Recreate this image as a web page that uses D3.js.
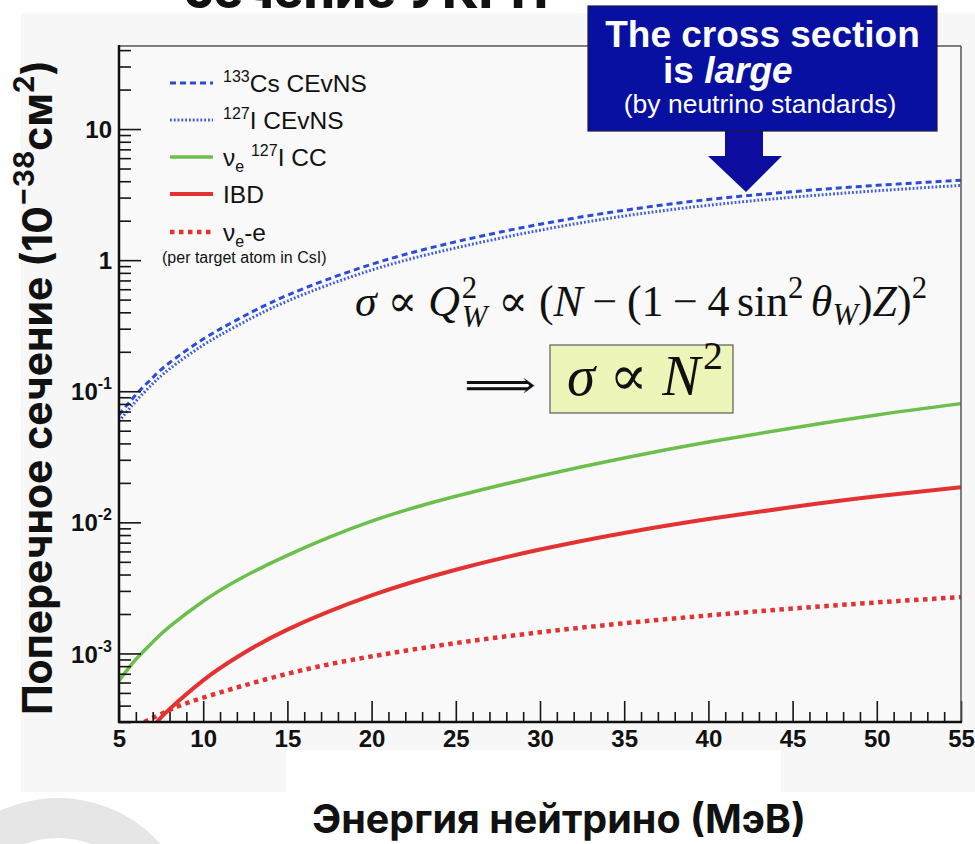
<!DOCTYPE html>
<html>
<head>
<meta charset="utf-8">
<script src="https://cdn.jsdelivr.net/npm/d3@7"></script>
<style>
  body { margin: 0; background: #ffffff; }
  svg { display: block; }
</style>
</head>
<body>
<svg id="chart" width="975" height="844"></svg>
<script>
// Neutrino energies (MeV) and cross sections (10^-38 cm^2, per target atom in CsI)
const energyCEvNS = [5, 6, 7, 8, 10, 12, 15, 20, 25, 30, 35, 40, 45, 50, 55];
const csCEvNS     = [0.066, 0.094, 0.127, 0.165, 0.25, 0.35, 0.54, 0.93, 1.38, 1.88, 2.4, 2.9, 3.33, 3.72, 4.07];
const iCEvNS      = [0.059, 0.084, 0.114, 0.148, 0.225, 0.315, 0.487, 0.84, 1.24, 1.69, 2.17, 2.62, 3.02, 3.38, 3.72];

const energyCC = [5, 6, 7, 8, 10, 12, 15, 20, 25, 30, 35, 40, 45, 50, 55];
const iodineCC = [6.2e-4, 9.0e-4, 1.22e-3, 1.6e-3, 2.5e-3, 3.6e-3, 5.6e-3, 1.02e-2, 1.58e-2, 2.26e-2, 3.1e-2, 4.1e-2, 5.25e-2, 6.6e-2, 8.05e-2];

const energyIBD = [7.25, 8, 10, 12, 15, 20, 25, 30, 35, 40, 45, 50, 55];
const ibdXS     = [3.0e-4, 3.76e-4, 6.24e-4, 9.35e-4, 1.52e-3, 2.77e-3, 4.35e-3, 6.2e-3, 8.3e-3, 1.06e-2, 1.31e-2, 1.58e-2, 1.85e-2];

const energyNuE = [6.5, 8, 10, 15, 20, 25, 30, 35, 40, 45, 50, 55];
const nuEXS     = [3.0e-4, 3.7e-4, 4.6e-4, 7.0e-4, 9.5e-4, 1.2e-3, 1.45e-3, 1.7e-3, 1.95e-3, 2.2e-3, 2.45e-3, 2.69e-3];

// Axis ticks and labels
const xMajorTicks = [5, 10, 15, 20, 25, 30, 35, 40, 45, 50, 55];
const yMajorTicks = [1e-3, 1e-2, 1e-1, 1, 10];
const yTickBase   = ["10", "10", "10", "1", "10"];
const yTickExp    = ["-3", "-2", "-1", "", ""];

const svg = d3.select("#chart");
const SANS = "'Liberation Sans', Arial, Helvetica, sans-serif";
const BOLD_UI = "Inter, 'Open Sans', 'Noto Sans', sans-serif";
const SERIF = "'Liberation Serif', 'DejaVu Serif', serif";

// Page backdrop
svg.append("rect").attr("x", 21).attr("y", 13).attr("width", 954).attr("height", 779).attr("fill", "#f7f7f7");
svg.append("rect").attr("x", 286).attr("y", 750).attr("width", 495).attr("height", 42).attr("fill", "#ffffff");

// Decorative ring in the lower-left corner
svg.append("circle").attr("cx", 58).attr("cy", 935).attr("r", 117)
  .attr("fill", "none").attr("stroke", "#e6e6e6").attr("stroke-width", 40);

// Helper: scale a text node so its width matches a target
function fitWidth(sel, target) {
  const w = sel.node().getBBox().width;
  const fs = parseFloat(sel.attr("font-size"));
  sel.attr("font-size", fs * target / w);
}

// Heading line at the very top (mostly outside the view)
const head = svg.append("text").attr("x", 184).attr("y", 8)
  .attr("font-family", BOLD_UI).attr("font-weight", 800).attr("font-size", 44)
  .attr("fill", "#111").text("сечение УКРН");
fitWidth(head, 364);

// Scales
const x = d3.scaleLinear().domain([5, 55]).range([119, 961]);
const y = d3.scaleLog().domain([3e-4, 43]).range([722, 46]);

const plot = svg.append("g");
plot.append("rect").attr("x", 119).attr("y", 46).attr("width", 842).attr("height", 676).attr("fill", "#f9f9f9");

svg.append("clipPath").attr("id", "clip")
  .append("rect").attr("x", 119).attr("y", 46).attr("width", 842).attr("height", 676);

// Series styling
const series = [
  { xs: energyCEvNS, ys: csCEvNS,  color: "#2b4cd9", width: 3,   dash: "6 4" },
  { xs: energyCEvNS, ys: iCEvNS,   color: "#3b5ce6", width: 3,   dash: "1.8 2" },
  { xs: energyCC,    ys: iodineCC, color: "#6cbf4c", width: 3.5, dash: null },
  { xs: energyIBD,   ys: ibdXS,    color: "#e43232", width: 4,   dash: null },
  { xs: energyNuE,   ys: nuEXS,    color: "#e43232", width: 4.5, dash: "4.5 4.5" }
];

const line = d3.line().x(d => x(d[0])).y(d => y(d[1])).curve(d3.curveNatural);
const curves = plot.append("g").attr("clip-path", "url(#clip)");
series.forEach(s => {
  curves.append("path")
    .attr("d", line(s.xs.map((e, i) => [e, s.ys[i]])))
    .attr("fill", "none")
    .attr("stroke", s.color)
    .attr("stroke-width", s.width)
    .attr("stroke-dasharray", s.dash);
});

// Axes: ticks point into the frame
const yMinor = [];
for (let k = -4; k <= 1; k++) for (let m = 2; m <= 9; m++) {
  const v = m * Math.pow(10, k);
  if (v >= 3e-4 && v <= 43) yMinor.push(v);
}
const xMinor = d3.range(5, 56).filter(v => v % 5 !== 0);

const axisStyle = g => g.attr("color", "#151515").call(s => s.select(".domain").remove())
  .call(s => s.selectAll(".tick line").attr("stroke-width", 1.6));

plot.append("g").attr("transform", "translate(119,0)")
  .call(d3.axisLeft(y).tickValues(yMinor).tickSize(-12).tickFormat(() => ""))
  .call(axisStyle);

const yAxis = plot.append("g").attr("transform", "translate(119,0)")
  .call(d3.axisLeft(y).tickValues(yMajorTicks).tickSize(-22).tickPadding(7).tickFormat(() => ""))
  .call(axisStyle);
yAxis.selectAll(".tick text").each(function (d, i) {
  const t = d3.select(this)
    .attr("font-family", SANS).attr("font-weight", "bold").attr("font-size", 24)
    .attr("fill", "#111").attr("dy", "0.36em");
  t.append("tspan").text(yTickBase[i]);
  if (yTickExp[i]) t.append("tspan").attr("font-size", 16).attr("dy", -11).text(yTickExp[i]);
});

plot.append("g").attr("transform", "translate(0,722)")
  .call(d3.axisBottom(x).tickValues(xMinor).tickSize(-10).tickFormat(() => ""))
  .call(axisStyle);
plot.append("g").attr("transform", "translate(0,722)")
  .call(d3.axisBottom(x).tickValues(xMajorTicks).tickSize(-21).tickPadding(8).tickFormat(d3.format("d")))
  .call(axisStyle)
  .call(g => g.selectAll(".tick text").attr("font-family", SANS).attr("font-weight", "bold")
    .attr("font-size", 24).attr("fill", "#111"));

// Frame
plot.append("line").attr("x1", 119).attr("x2", 961).attr("y1", 46).attr("y2", 46).attr("stroke", "#555").attr("stroke-width", 1.5);
plot.append("line").attr("x1", 961).attr("x2", 961).attr("y1", 46).attr("y2", 722).attr("stroke", "#555").attr("stroke-width", 1.5);
plot.append("line").attr("x1", 119).attr("x2", 119).attr("y1", 45).attr("y2", 723).attr("stroke", "#111").attr("stroke-width", 2.5);
plot.append("line").attr("x1", 118).attr("x2", 962).attr("y1", 722).attr("y2", 722).attr("stroke", "#111").attr("stroke-width", 2.5);

// Legend
const legendRows = [83, 120, 157, 194, 232];
const legend = plot.append("g");
series.forEach((s, i) => {
  legend.append("line").attr("x1", 170).attr("x2", 213)
    .attr("y1", legendRows[i]).attr("y2", legendRows[i])
    .attr("stroke", s.color).attr("stroke-width", s.width).attr("stroke-dasharray", s.dash);
});
const legendText = [
  [{ t: "133", sup: 1 }, { t: "Cs CEvNS" }],
  [{ t: "127", sup: 1 }, { t: "I CEvNS" }],
  [{ t: "ν" }, { t: "e", sub: 1 }, { t: "\u00a0" }, { t: "127", sup: 1 }, { t: "I CC" }],
  [{ t: "IBD" }],
  [{ t: "ν" }, { t: "e", sub: 1 }, { t: "-e" }]
];
legendText.forEach((parts, i) => {
  const t = legend.append("text").attr("x", 223).attr("y", legendRows[i] + 8.5)
    .attr("font-family", SANS).attr("font-size", 24.5).attr("fill", "#111");
  let shift = 0;
  parts.forEach(p => {
    const want = p.sup ? -10 : p.sub ? 6 : 0;
    t.append("tspan").attr("dy", want - shift).attr("font-size", p.sup || p.sub ? 16 : 24.5).text(p.t);
    shift = want;
  });
});
legend.append("text").attr("x", 162).attr("y", 263)
  .attr("font-family", SANS).attr("font-size", 16).attr("fill", "#111")
  .text("(per target atom in CsI)");

// Formula helper: lays out pieces left to right, measuring each
function mathRun(g, size, pieces) {
  let cx = 0, prevX = 0;
  pieces.forEach(p => {
    const fs = size * (p.s || 1);
    const sx = p.stack ? prevX : cx + (p.sp || 0) * size;
    const t = g.append("text").attr("x", sx).attr("y", (p.dy || 0) * size)
      .attr("font-family", p.f || SERIF).attr("font-size", fs)
      .attr("font-style", p.i ? "italic" : "normal").attr("fill", "#111").text(p.t);
    const w = t.node().getComputedTextLength();
    if (p.stack) cx = Math.max(cx, sx + w);
    else { prevX = sx; cx = sx + w; }
  });
  return cx;
}

const PROP = "'DejaVu Serif', serif";
const f1 = svg.append("g");
const w1 = mathRun(f1, 29, [
  { t: "σ", i: 1 }, { t: "∝", sp: 0.25, f: PROP }, { t: "Q", i: 1, sp: 0.25 },
  { t: "2", s: 0.7, dy: -0.42, sp: 0.04 }, { t: "W", i: 1, s: 0.7, dy: 0.26, stack: 1 },
  { t: "∝", sp: 0.25, f: PROP }, { t: "(", sp: 0.25 }, { t: "N", i: 1 }, { t: "−", sp: 0.22 },
  { t: "(", sp: 0.22 }, { t: "1" }, { t: "−", sp: 0.22 }, { t: "4", sp: 0.22 },
  { t: "sin", sp: 0.17 }, { t: "2", s: 0.7, dy: -0.42 }, { t: "θ", i: 1, sp: 0.17 },
  { t: "W", i: 1, s: 0.7, dy: 0.2 }, { t: ")" }, { t: "Z", i: 1 }, { t: ")" },
  { t: "2", s: 0.7, dy: -0.42 }
]);
f1.attr("transform", `translate(355,316) scale(${572 / w1})`);

// Implication arrow and boxed result
const arrowG = svg.append("g");
const wa = mathRun(arrowG, 38, [{ t: "⟹", f: "'DejaVu Serif', 'DejaVu Sans', serif" }]);
arrowG.attr("transform", `translate(464,398) scale(${72 / wa},1)`);

svg.append("rect").attr("x", 550).attr("y", 345).attr("width", 183).attr("height", 68)
  .attr("fill", "#eef5b9").attr("stroke", "#5a5a5a").attr("stroke-width", 1.2);
const f2 = svg.append("g");
const w2 = mathRun(f2, 40, [
  { t: "σ", i: 1 }, { t: "∝", sp: 0.25, f: PROP }, { t: "N", i: 1, sp: 0.25 }, { t: "2", s: 0.7, dy: -0.45, sp: 0.05 }
]);
f2.attr("transform", `translate(567,395) scale(${156 / w2})`);

// Callout box with arrow
const BLUE = "#0710a0";
const defs = svg.append("defs");
defs.append("filter").attr("id", "soft").append("feGaussianBlur").attr("stdDeviation", 0.7);
svg.append("path")
  .attr("d", "M725,130 L763,130 L763,156 L782,156 L746,192 L708,156 L725,156 Z")
  .attr("fill", BLUE).attr("filter", "url(#soft)");
svg.append("rect").attr("x", 588).attr("y", 6).attr("width", 349).attr("height", 125)
  .attr("fill", BLUE).attr("stroke", "#1a1a40").attr("stroke-width", 1.2);
svg.append("text").attr("x", 762.5).attr("y", 47).attr("text-anchor", "middle")
  .attr("font-family", SANS).attr("font-weight", "bold").attr("font-size", 37).attr("fill", "#fff")
  .text("The cross section");
const large = svg.append("text").attr("x", 663).attr("y", 83)
  .attr("font-family", SANS).attr("font-weight", "bold").attr("font-size", 37).attr("fill", "#fff");
large.append("tspan").text("is ");
large.append("tspan").attr("font-style", "italic").text("large");
svg.append("text").attr("x", 760).attr("y", 113).attr("text-anchor", "middle")
  .attr("font-family", SANS).attr("font-size", 26.5).attr("fill", "#fff")
  .text("(by neutrino standards)");

// Axis titles
const xt = svg.append("text").attr("x", 312).attr("y", 833)
  .attr("font-family", BOLD_UI).attr("font-weight", 700).attr("font-size", 30).attr("fill", "#111")
  .text("Энергия нейтрино (МэВ)");
fitWidth(xt, 494);

const ytG = svg.append("g");
const yt = ytG.append("text").attr("x", 0).attr("y", 0)
  .attr("font-family", BOLD_UI).attr("font-weight", 700).attr("font-size", 32).attr("fill", "#111");
yt.append("tspan").text("Поперечное сечение (10");
yt.append("tspan").attr("dy", -14).attr("font-size", 22).text("−38");
yt.append("tspan").attr("dy", 14).text("см");
yt.append("tspan").attr("dy", -14).attr("font-size", 22).text("2");
yt.append("tspan").attr("dy", 14).text(")");
const ytw = yt.node().getBBox().width;
const ys = 655 / ytw;
ytG.attr("transform", `translate(52,715) rotate(-90) scale(${ys})`);
</script>
</body>
</html>
